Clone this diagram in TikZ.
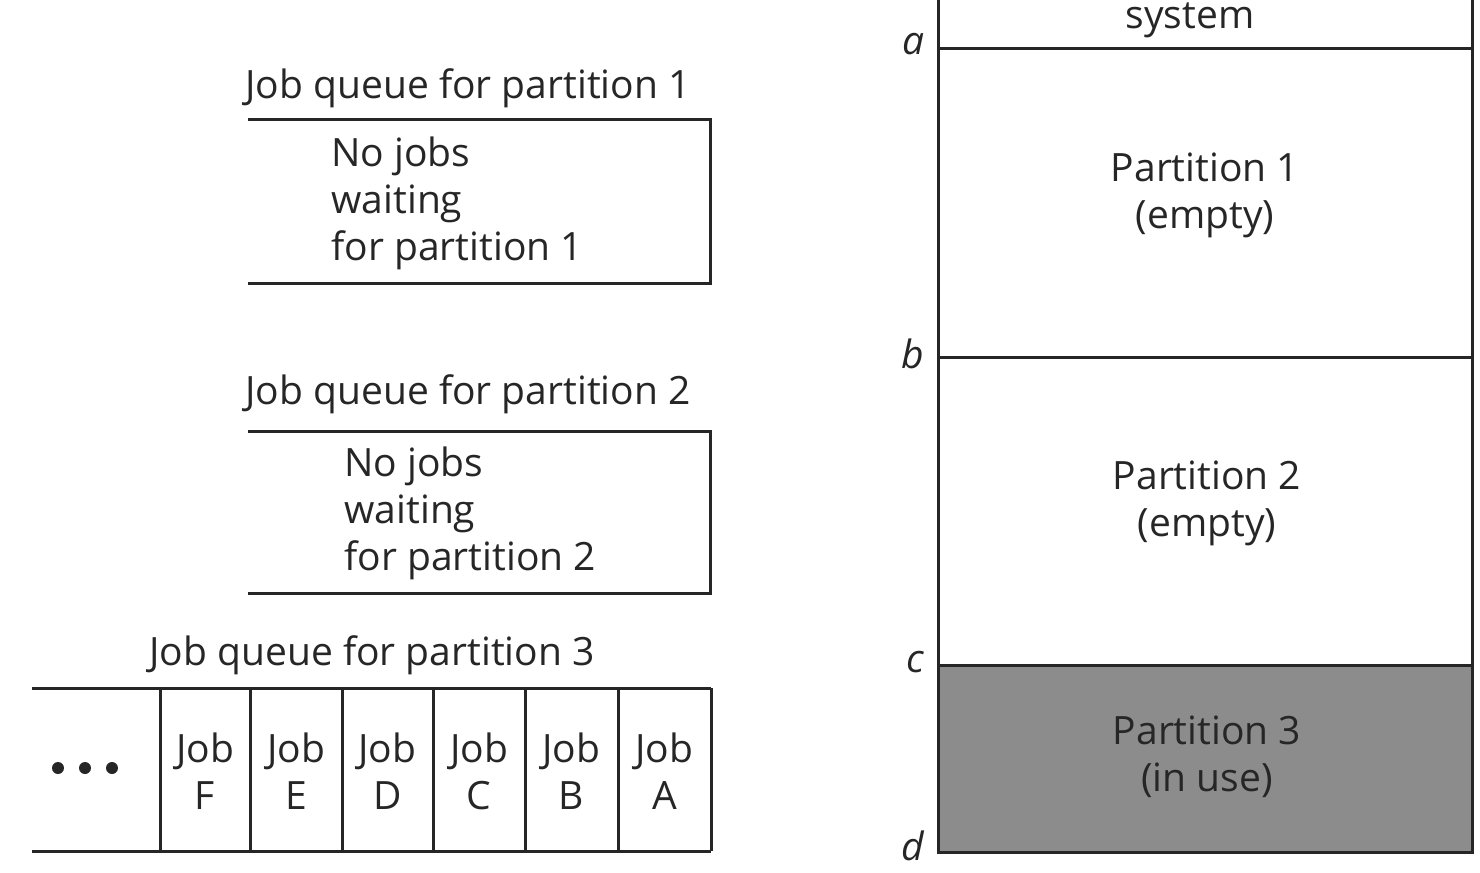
\documentclass[tikz,border=0pt]{standalone}
\usepackage{fontspec}
\setmainfont{Open Sans}
\tikzset{txt/.style={font=\fontsize{19.5}{23.5}\selectfont,inner sep=0pt,text=black!85},
  addr/.style={font=\fontsize{19.5}{22}\selectfont\itshape,anchor=east,inner sep=0pt,text=black!85},
  used/.style={fill=black!45}}
\begin{document}
\begin{tikzpicture}[x=0.5pt,y=-0.5pt,line width=1.5pt,draw=black!85]
  \useasboundingbox (0,0) rectangle (1480,873);
  % memory column
  \fill[used] (938,665) rectangle (1472,852);
  \draw (938,-10) -- (938,852) -- (1472,852) -- (1472,-10);
  \foreach \y in {48,357,665} \draw (938,\y) -- (1472,\y);
  \node[txt] (os) at (1190,20) {system};
  \node[addr] (a) at (926,44) {a};
  \node[addr] (b) at (926,354) {b};
  \node[addr] (c) at (926,662) {c};
  \node[addr] (d) at (926,846) {d};
  \node[txt,align=center] (p1) at (1205,195) {Partition 1\\(empty)};
  \node[txt,align=center] (p2) at (1207,503) {Partition 2\\(empty)};
  \node[txt,align=center] (p3) at (1207,757) {Partition 3\\(in use)};
  % queue 1
  \node[txt] (q1) at (468,88) {Job queue for partition 1};
  \draw (248,119) -- (710,119) -- (710,283) -- (248,283);
  \node[txt,align=left,anchor=west] (w1) at (330,203) {No jobs\\waiting\\for partition 1};
  % queue 2
  \node[txt] (q2) at (468,394) {Job queue for partition 2};
  \draw (248,431) -- (710,431) -- (710,593) -- (248,593);
  \node[txt,align=left,anchor=west] (w2) at (343,513) {No jobs\\waiting\\for partition 2};
  % queue 3
  \node[txt] (q3) at (372,655) {Job queue for partition 3};
  \draw (32,688) -- (711,688) (32,851) -- (711,851);
  \foreach \x in {160,250,342,433,525,618,711} \draw (\x,688) -- (\x,851);
  \foreach \x in {58,85,112} \fill[black!85] (\x,768) circle (6);
  \foreach \a/\b/\l in {160/250/F,250/342/E,342/433/D,433/525/C,525/618/B,618/711/A}
    \node[txt,align=center] (job\l) at ({(\a+\b)/2},771) {Job\\\l};
\end{tikzpicture}
\end{document}
